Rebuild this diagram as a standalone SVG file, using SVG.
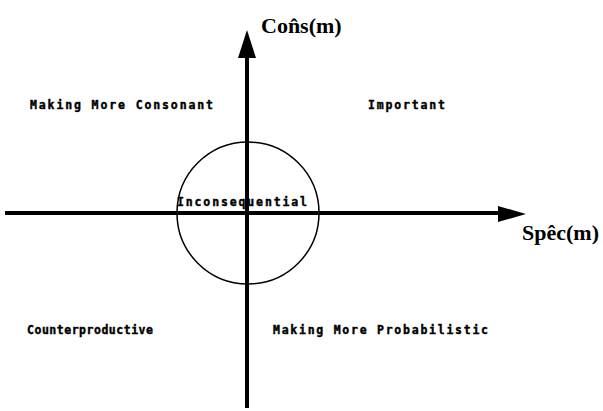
<svg xmlns="http://www.w3.org/2000/svg" width="603" height="411" viewBox="0 0 603 411">
<style>
.q{font-family:"DejaVu Sans Mono","Liberation Mono",monospace;font-weight:bold;font-size:11.5px;fill:#000;stroke:#000;stroke-width:0.4}
.ax{font-family:"Liberation Serif","DejaVu Serif",serif;font-weight:bold;font-size:22px;fill:#000}
.axis{stroke:#000;stroke-width:4;fill:none}
</style>
<rect width="603" height="411" fill="#fff"/>
<g id="connectors">
<line class="axis" x1="247" y1="52" x2="247" y2="408"/>
<polygon points="247,30 256,58 238,58" fill="#000"/>
<line class="axis" x1="5" y1="213" x2="502" y2="213"/>
<polygon points="526,214 498,206 498,222" fill="#000"/>
</g>
<g id="inconsequential">
<circle cx="248" cy="213" r="71" fill="none" stroke="#000" stroke-width="1.5"/>
<text class="q" x="177" y="206" textLength="130" lengthAdjust="spacing">Inconsequential</text>
</g>
<g id="consonant"><text class="q" x="30" y="109" textLength="183" lengthAdjust="spacing">Making More Consonant</text></g>
<g id="important"><text class="q" x="368" y="109" textLength="77" lengthAdjust="spacing">Important</text></g>
<g id="counter"><text class="q" x="27" y="334" textLength="126" lengthAdjust="spacing">Counterproductive</text></g>
<g id="probabilistic"><text class="q" x="273" y="334" textLength="215" lengthAdjust="spacing">Making More Probabilistic</text></g>
<g id="cons-label"><text class="ax" x="261" y="33">Con̂s(m)</text></g>
<g id="spec-label"><text class="ax" x="522" y="240">Spêc(m)</text></g>
</svg>
